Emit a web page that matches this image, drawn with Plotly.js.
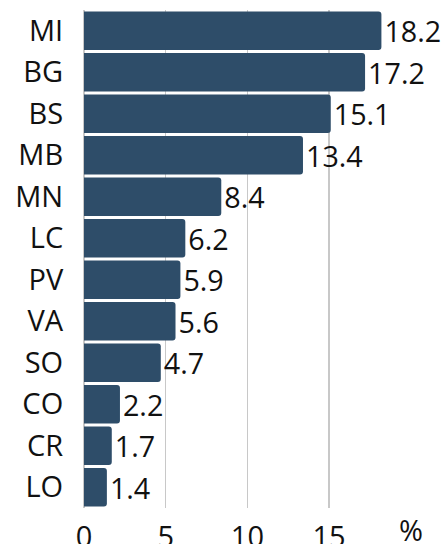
<!DOCTYPE html>
<html>
<head>
<meta charset="utf-8">
<script src="https://cdn.plot.ly/plotly-3.0.1.min.js"></script>
<style>html,body{margin:0;padding:0;background:#fff;}#chart{width:447px;height:544px;}</style>
</head>
<body>
<div id="chart"></div>
<script>
const categories = ["MI","BG","BS","MB","MN","LC","PV","VA","SO","CO","CR","LO"];
const values = [18.2,17.2,15.1,13.4,8.4,6.2,5.9,5.6,4.7,2.2,1.7,1.4];
const xTickVals = [0,5,10,15];
const xTickText = ["0","5","10","15"];
const unitLabel = "%";

const FONT = "Open Sans, Noto Sans, sans-serif";
const FS = 29;
const trace = {
  type: "bar",
  orientation: "h",
  y: categories,
  x: values,
  text: values.map(v => v.toFixed(1)),
  textposition: "outside",
  cliponaxis: false,
  textfont: {family: FONT, size: FS, color: "#111"},
  marker: {color: "#2e4d69", cornerradius: 3},
  hoverinfo: "none"
};
const layout = {
  width: 447, height: 544,
  margin: {l: 84, r: 28, t: 10, b: 36},
  paper_bgcolor: "#fff", plot_bgcolor: "#fff",
  bargap: 0.07,
  showlegend: false,
  font: {family: FONT, size: FS, color: "#111"},
  xaxis: {
    range: [0, 20.5],
    tickvals: xTickVals, ticktext: xTickText,
    showgrid: true, gridcolor: "#c8c8c8", gridwidth: 1.5,
    zeroline: true, zerolinecolor: "#c8c8c8", zerolinewidth: 1.5,
    ticks: "outside", ticklen: 3, tickcolor: "rgba(0,0,0,0)",
    tickfont: {family: FONT, size: FS, color: "#111"},
    showline: false, fixedrange: true
  },
  yaxis: {
    autorange: "reversed",
    ticks: "outside", ticklen: 14, tickcolor: "rgba(0,0,0,0)",
    tickfont: {family: FONT, size: FS, color: "#111"},
    showgrid: false, zeroline: false, showline: false
  },
  annotations: [{
    x: 20, xref: "x", y: 0, yref: "paper", yanchor: "middle",
    yshift: -21,
    text: unitLabel, showarrow: false,
    font: {family: FONT, size: FS, color: "#111"}
  }]
};
Plotly.newPlot("chart", [trace], layout, {displayModeBar: false, staticPlot: true});
</script>
</body>
</html>
